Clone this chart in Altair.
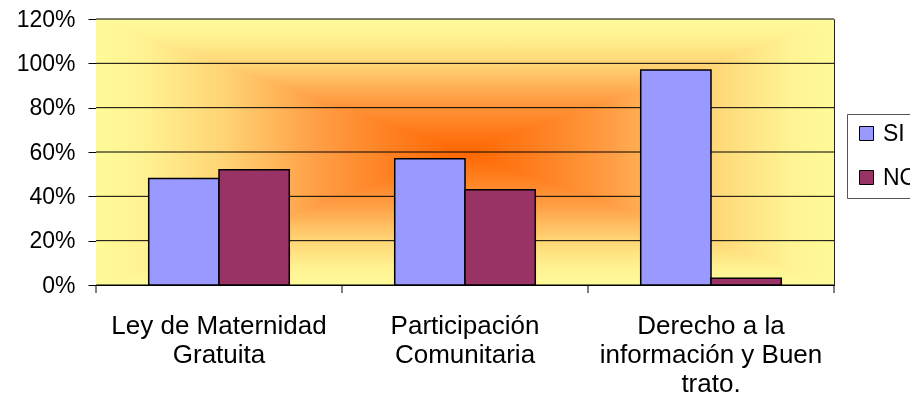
import altair as alt
import pandas as pd

categories = [
    "Ley de Maternidad\nGratuita",
    "Participación\nComunitaria",
    "Derecho a la\ninformación y Buen\ntrato.",
]
series = ["SI", "NO"]
si_values = [0.48, 0.57, 0.97]
no_values = [0.52, 0.43, 0.03]
y_ticks = [0, 0.2, 0.4, 0.6, 0.8, 1.0, 1.2]
boundaries = [0, 1, 2, 3]

rows = []
for c, s, n in zip(categories, si_values, no_values):
    rows.append({"cat": c, "serie": "SI", "val": s})
    rows.append({"cat": c, "serie": "NO", "val": n})
df = pd.DataFrame(rows)
bdf = pd.DataFrame({"b": boundaries})
gdf = pd.DataFrame({"t": y_ticks})
bgdf = pd.DataFrame({"k": [0]})

W, H = 738, 266
FONT = "Liberation Sans"

yscale = alt.Scale(domain=[0, 1.2], nice=False)
yaxis = alt.Axis(title=None, values=y_ticks, format=".0%",
                 labelFontSize=23, labelColor="black",
                 tickSize=8, tickColor="black",
                 domainColor="black", grid=False, labelPadding=13)

stops = [
    ("#FFFA99", 0.0), ("#FFF393", 0.06), ("#FFD575", 0.17),
    ("#FF9E45", 0.3), ("#FF7A1A", 0.42), ("#FF6600", 0.5),
    ("#FF7A1A", 0.58), ("#FF9E45", 0.7), ("#FFD575", 0.83),
    ("#FFF393", 0.94), ("#FFFA99", 1.0),
]
grad_stops = [alt.GradientStop(color=c, offset=o) for c, o in stops]
grad_h = alt.LinearGradient(gradient="linear", x1=0, x2=1, y1=0, y2=0, stops=grad_stops)
grad_v = alt.LinearGradient(gradient="linear", x1=0, x2=0, y1=0, y2=1, stops=grad_stops)

bg_h = alt.Chart(bgdf).mark_rect(fill=grad_h, strokeWidth=0).encode(
    x=alt.value(0), x2=alt.value(W), y=alt.value(0), y2=alt.value(H)
)
bg_v = alt.Chart(bgdf).mark_rect(fill=grad_v, strokeWidth=0, blend="lighten").encode(
    x=alt.value(0), x2=alt.value(W), y=alt.value(0), y2=alt.value(H)
)

grid = alt.Chart(gdf).mark_rule(color="black", strokeWidth=1).encode(
    y=alt.Y("t:Q", scale=yscale, axis=yaxis),
    x=alt.value(0), x2=alt.value(W),
)

bars = alt.Chart(df).mark_bar(stroke="black", strokeWidth=1.5).encode(
    x=alt.X("cat:N", sort=categories,
            scale=alt.Scale(paddingInner=0.4286, paddingOuter=0.2143),
            axis=alt.Axis(title=None, labelAngle=0, ticks=False,
                          labelExpr="split(datum.label, '\\n')",
                          labelFontSize=26, labelLineHeight=29,
                          labelPadding=27, labelLimit=400,
                          labelColor="black", domainColor="black",
                          labelBaseline="top", grid=False)),
    xOffset=alt.XOffset("serie:N", sort=series,
                        scale=alt.Scale(paddingInner=0, paddingOuter=0)),
    y=alt.Y("val:Q", scale=yscale, axis=yaxis),
    color=alt.Color("serie:N", sort=series,
                    scale=alt.Scale(domain=series, range=["#9999FF", "#993366"]),
                    legend=alt.Legend(title=None, orient="none",
                                      legendX=751, legendY=95,
                                      strokeColor="#555", fillColor="white",
                                      padding=8, rowPadding=20,
                                      symbolType="square", symbolSize=196,
                                      symbolStrokeColor="black",
                                      symbolStrokeWidth=1,
                                      labelFontSize=23, labelOffset=5,
                                      labelColor="black")),
)

ticks = alt.Chart(bdf).mark_rule(color="black", strokeWidth=1).encode(
    x=alt.X("b:Q", scale=alt.Scale(domain=[0, 3], nice=False, zero=False), axis=None),
    y=alt.value(H),
    y2=alt.value(H + 8),
)

chart = alt.layer(bg_h, bg_v, grid, bars, ticks).resolve_scale(x="independent").properties(
    width=W, height=H,
    autosize="none",
    padding={"left": 88, "top": 11, "right": 76, "bottom": 110},
    background="white",
).configure(font=FONT).configure_view(
    stroke="#222", strokeWidth=1
)

chart.save("out.html", embed_options={"renderer": "svg", "actions": False})
